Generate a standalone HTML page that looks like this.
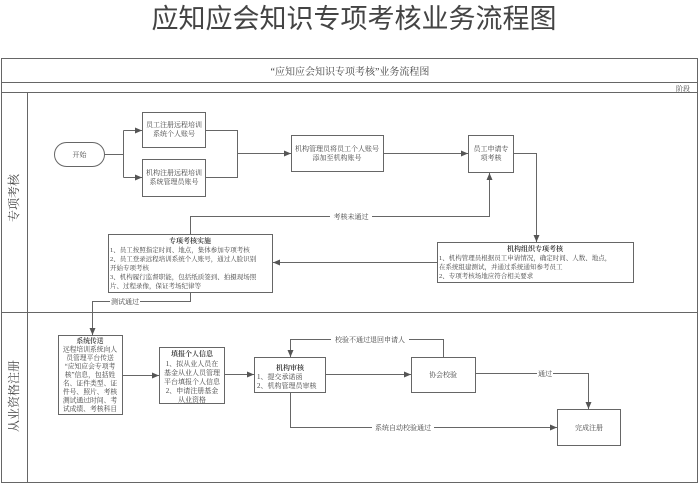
<!DOCTYPE html>
<html><head><meta charset="utf-8"><style>
html,body{margin:0;padding:0;background:#fff;}
svg{display:block;}
text{font-family:"Liberation Serif","Noto Serif CJK SC",serif;fill:#444;}
.b{fill:#fff;stroke:#666;stroke-width:1;}
.l{fill:none;stroke:#666;stroke-width:1;}
</style></head><body>
<svg width="700" height="484" viewBox="0 0 700 484" xmlns="http://www.w3.org/2000/svg">
<defs><marker id="a" markerWidth="8" markerHeight="8" refX="7" refY="4" orient="auto" markerUnits="userSpaceOnUse"><path d="M0,1 L7,4 L0,7z" fill="#555"/></marker></defs>
<text x="354" y="28" font-size="27" text-anchor="middle" style="font-family:'Noto Sans CJK SC',sans-serif" fill="#444">应知应会知识专项考核业务流程图</text>
<rect x="1.5" y="58.5" width="696" height="424" class="l" stroke="#888"/>
<line x1="1.5" y1="82.5" x2="697.5" y2="82.5" class="l"/>
<line x1="1.5" y1="92.5" x2="697.5" y2="92.5" class="l"/>
<line x1="1.5" y1="312.5" x2="697.5" y2="312.5" class="l"/>
<line x1="27.5" y1="92.5" x2="27.5" y2="482.5" class="l"/>
<text x="350" y="75" font-size="10" text-anchor="middle">“应知应会知识专项考核”业务流程图</text>
<text x="683" y="91" font-size="7" text-anchor="middle">阶段</text>
<text x="14" y="202" font-size="12" text-anchor="middle" transform="rotate(-90 14 198)">专项考核</text>
<text x="14" y="400" font-size="12" text-anchor="middle" transform="rotate(-90 14 396)">从业资格注册</text>
<rect x="54.5" y="142.5" width="50" height="24" rx="12" class="b"/>
<text x="79.5" y="157" font-size="7" text-anchor="middle">开始</text>
<rect x="142.5" y="112.5" width="63" height="35" class="b"/>
<text x="174" y="127" font-size="7" text-anchor="middle">员工注册远程培训</text>
<text x="174" y="136" font-size="7" text-anchor="middle">系统个人账号</text>
<rect x="142.5" y="159.5" width="63" height="37" class="b"/>
<text x="174" y="175" font-size="7" text-anchor="middle">机构注册远程培训</text>
<text x="174" y="184" font-size="7" text-anchor="middle">系统管理员账号</text>
<rect x="291.5" y="135.5" width="92" height="36" class="b"/>
<text x="337" y="151" font-size="7" text-anchor="middle">机构管理员将员工个人账号</text>
<text x="337" y="160" font-size="7" text-anchor="middle">添加至机构账号</text>
<rect x="468.5" y="135.5" width="45" height="37" class="b"/>
<text x="491" y="151" font-size="7" text-anchor="middle">员工申请专</text>
<text x="491" y="160" font-size="7" text-anchor="middle">项考核</text>
<path d="M104.5,154.5 H123.5 M123.5,130.5 V177.5" class="l"/>
<path d="M123.5,130.5 H142" class="l" marker-end="url(#a)"/>
<path d="M123.5,177.5 H142" class="l" marker-end="url(#a)"/>
<path d="M205.5,130.5 H237.5 V177.5 H205.5 M237.5,153.5 H291" class="l" marker-end="url(#a)"/>
<path d="M383.5,153.5 H468" class="l" marker-end="url(#a)"/>
<path d="M513.5,153.5 H536.5 V242" class="l" marker-end="url(#a)"/>
<path d="M190.5,234.5 V216.5 H489.5 V173" class="l" marker-end="url(#a)"/>
<rect x="330" y="212" width="42" height="9" fill="#fff"/>
<text x="351" y="219" font-size="7" text-anchor="middle">考核未通过</text>
<rect x="108.5" y="234.5" width="164" height="58" class="b"/>
<text x="190" y="243" font-size="7" text-anchor="middle" font-weight="bold">专项考核实施</text>
<text x="110" y="252" font-size="6.5">1、员工按照指定时间、地点，集体参加专项考核</text>
<text x="110" y="261" font-size="6.5">2、员工登录远程培训系统个人账号，通过人脸识别</text>
<text x="110" y="270" font-size="6.5">开始专项考核</text>
<text x="110" y="279" font-size="6.5">3、机构履行监督职能，包括纸质签到、拍摄现场照</text>
<text x="110" y="288" font-size="6.5">片、过程录像，保证考场纪律等</text>
<rect x="437.5" y="242.5" width="196" height="40" class="b"/>
<text x="535" y="251" font-size="7" text-anchor="middle" font-weight="bold">机构组织专项考核</text>
<text x="439" y="260" font-size="6.5">1、机构管理员根据员工申请情况，确定时间、人数、地点，</text>
<text x="439" y="269" font-size="6.5">在系统组建测试，并通过系统通知参考员工</text>
<text x="439" y="278" font-size="6.5">2、专项考核场地应符合相关要求</text>
<path d="M437.5,262.5 H273" class="l" marker-end="url(#a)"/>
<path d="M190.5,292.5 V301.5 H92.5 V335" class="l" marker-end="url(#a)"/>
<rect x="110" y="297" width="30" height="9" fill="#fff"/>
<text x="125" y="304" font-size="7" text-anchor="middle">测试通过</text>
<rect x="58.5" y="335.5" width="64" height="79" class="b"/>
<text x="90" y="343" font-size="6.8" text-anchor="middle" font-weight="bold">系统传送</text>
<text x="90" y="351.5" font-size="6.8" text-anchor="middle">远程培训系统向人</text>
<text x="90" y="360" font-size="6.8" text-anchor="middle">员管理平台传送</text>
<text x="90" y="368.5" font-size="6.8" text-anchor="middle">“应知应会专项考</text>
<text x="90" y="377" font-size="6.8" text-anchor="middle">核”信息，包括姓</text>
<text x="90" y="385.5" font-size="6.8" text-anchor="middle">名、证件类型、证</text>
<text x="90" y="394" font-size="6.8" text-anchor="middle">件号、照片、考核</text>
<text x="90" y="402.5" font-size="6.8" text-anchor="middle">测试通过时间、考</text>
<text x="90" y="411" font-size="6.8" text-anchor="middle">试成绩、考核科目</text>
<rect x="159.5" y="347.5" width="65" height="56" class="b"/>
<text x="192" y="356" font-size="7" text-anchor="middle" font-weight="bold">填报个人信息</text>
<text x="192" y="366" font-size="7" text-anchor="middle">1、拟从业人员在</text>
<text x="192" y="375" font-size="7" text-anchor="middle">基金从业人员管理</text>
<text x="192" y="384" font-size="7" text-anchor="middle">平台填报个人信息</text>
<text x="192" y="393" font-size="7" text-anchor="middle">2、申请注册基金</text>
<text x="192" y="402" font-size="7" text-anchor="middle">从业资格</text>
<rect x="254.5" y="357.5" width="71" height="35" class="b"/>
<text x="290" y="370" font-size="7" text-anchor="middle" font-weight="bold">机构审核</text>
<text x="257" y="379" font-size="7">1、提交承诺函</text>
<text x="257" y="388" font-size="7">2、机构管理员审核</text>
<rect x="411.5" y="357.5" width="64" height="35" class="b"/>
<text x="443" y="377" font-size="7" text-anchor="middle">协会校验</text>
<rect x="557.5" y="409.5" width="63" height="36" class="b"/>
<text x="589" y="430" font-size="7" text-anchor="middle">完成注册</text>
<path d="M122.5,375.5 H159" class="l" marker-end="url(#a)"/>
<path d="M224.5,374.5 H254" class="l" marker-end="url(#a)"/>
<path d="M325.5,374.5 H411" class="l" marker-end="url(#a)"/>
<path d="M443.5,357.5 V339.5 H290.5 V357" class="l" marker-end="url(#a)"/>
<rect x="331" y="335" width="78" height="9" fill="#fff"/>
<text x="370" y="342" font-size="7" text-anchor="middle">校验不通过退回申请人</text>
<path d="M475.5,373.5 H588.5 V409" class="l" marker-end="url(#a)"/>
<rect x="537" y="369" width="16" height="9" fill="#fff"/>
<text x="545" y="376" font-size="7" text-anchor="middle">通过</text>
<path d="M290.5,392.5 V427.5 H557" class="l" marker-end="url(#a)"/>
<rect x="372" y="423" width="62" height="9" fill="#fff"/>
<text x="403" y="430" font-size="7" text-anchor="middle">系统自动校验通过</text>
</svg>
</body></html>
